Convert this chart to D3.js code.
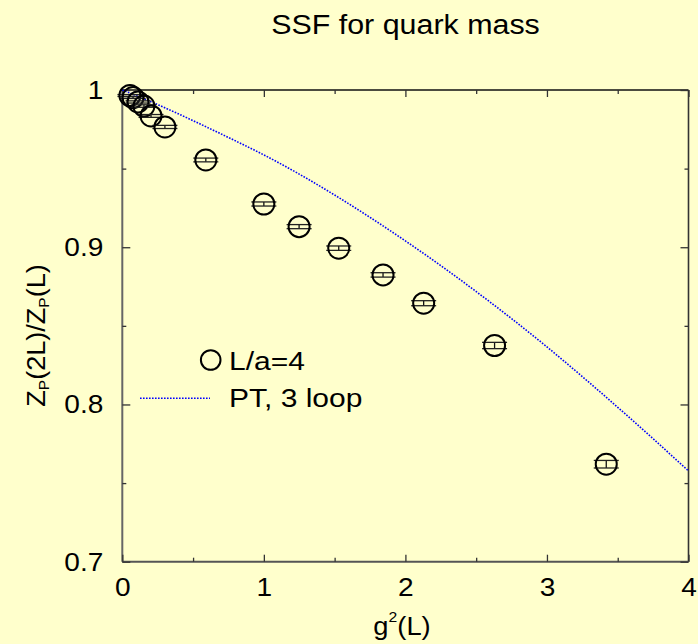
<!DOCTYPE html>
<html>
<head>
<meta charset="utf-8">
<script src="https://cdn.jsdelivr.net/npm/d3@7"></script>
<style>
  html, body { margin: 0; padding: 0; background: #ffffcc; }
  svg { display: block; }
  text { font-family: "Liberation Sans", Arial, Helvetica, sans-serif; fill: #000; }
</style>
</head>
<body>
<div id="chart"></div>
<script>
// ---- data ----
const g2 = [0.054, 0.076, 0.111, 0.153, 0.203, 0.301, 0.590, 1.000, 1.249, 1.529, 1.842, 2.129, 2.630, 3.419];
const ratio = [0.9965, 0.9952, 0.9924, 0.9898, 0.9835, 0.9765, 0.9555, 0.9275, 0.9131, 0.8994, 0.8824, 0.8644, 0.8375, 0.7620];
const ratioErr = [0.0006, 0.0006, 0.0007, 0.0008, 0.0009, 0.0010, 0.0012, 0.0013, 0.0013, 0.0014, 0.0014, 0.0016, 0.0020, 0.0024];

const ptG2 = [0, 0.25, 0.5, 0.75, 1, 1.25, 1.5, 1.75, 2, 2.25, 2.5, 2.75, 3, 3.25, 3.5, 3.75, 4];
const ptRatio = [1, 0.9907, 0.9805, 0.9698, 0.9587, 0.9465, 0.9332, 0.919, 0.904, 0.8883, 0.8718, 0.8546, 0.8366, 0.8177, 0.7982, 0.7782, 0.7577];

const xTicks = [0, 1, 2, 3, 4];
const xMinor = [0.5, 1.5, 2.5, 3.5];
const yTicks = [0.7, 0.8, 0.9, 1];
const yMinor = [0.75, 0.85, 0.95];

const title = "SSF for quark mass";
const legendData = "L/a=4";
const legendPT = "PT, 3 loop";

// ---- layout ----
const W = 698, H = 644;
const pL = 122.3, pR = 688.5, pT = 90, pB = 561.7;

const svg = d3.select("#chart").append("svg").attr("width", W).attr("height", H);
svg.append("rect").attr("width", W).attr("height", H).attr("fill", "#ffffcc");

const x = d3.scaleLinear().domain([0, 4]).range([pL, pR]);
const y = d3.scaleLinear().domain([0.7, 1]).range([pB, pT]);

// frame
svg.append("line").attr("x1", pL).attr("x2", pR).attr("y1", pT).attr("y2", pT).attr("stroke", "#111").attr("stroke-width", 1.3);
svg.append("line").attr("x1", pR).attr("x2", pR).attr("y1", pT).attr("y2", pB).attr("stroke", "#333").attr("stroke-width", 1.6);
svg.append("line").attr("x1", pL).attr("x2", pL).attr("y1", pT).attr("y2", pB).attr("stroke", "#666").attr("stroke-width", 2);
svg.append("line").attr("x1", pL).attr("x2", pR).attr("y1", pB).attr("y2", pB).attr("stroke", "#555").attr("stroke-width", 2);

function styleTicks(g) {
  g.select(".domain").remove();
  g.selectAll("line").attr("stroke", "#333").attr("stroke-width", 1.3);
}

// stretched text helper (reference glyphs are slightly wider than Liberation Sans)
function stext(px, py, size, sx, anchor) {
  return svg.append("text")
    .attr("transform", `translate(${px},${py}) scale(${sx},1)`)
    .attr("font-size", size)
    .attr("text-anchor", anchor || "start");
}

// axes (inward ticks)
const tickFont = 26, tickSX = 1.08;
const gx = svg.append("g").attr("transform", `translate(0,${pB})`)
  .call(d3.axisBottom(x).tickValues(xTicks).tickSize(-7).tickFormat(d3.format("d")));
styleTicks(gx);
gx.selectAll("text").attr("font-size", tickFont).attr("y", 16).attr("dy", "0.71em")
  .attr("transform", `scale(${tickSX},1)`)
  .style("font-family", "Liberation Sans, Arial, sans-serif");

styleTicks(svg.append("g").attr("transform", `translate(0,${pB})`)
  .call(d3.axisBottom(x).tickValues(xMinor).tickSize(-4).tickFormat("")));
styleTicks(svg.append("g").attr("transform", `translate(0,${pT})`)
  .call(d3.axisTop(x).tickValues(xTicks).tickSize(-7).tickFormat("")));
styleTicks(svg.append("g").attr("transform", `translate(0,${pT})`)
  .call(d3.axisTop(x).tickValues(xMinor).tickSize(-4).tickFormat("")));

const gy = svg.append("g").attr("transform", `translate(${pL},0)`)
  .call(d3.axisLeft(y).tickValues(yTicks).tickSize(-8).tickPadding(19)
    .tickFormat(d => d === 1 ? "1" : d3.format(".1f")(d)));
styleTicks(gy);
gy.selectAll("text").attr("font-size", tickFont)
  .attr("x", -19 / tickSX)
  .attr("transform", `scale(${tickSX},1)`)
  .style("font-family", "Liberation Sans, Arial, sans-serif");

styleTicks(svg.append("g").attr("transform", `translate(${pL},0)`)
  .call(d3.axisLeft(y).tickValues(yMinor).tickSize(-4).tickFormat("")));
styleTicks(svg.append("g").attr("transform", `translate(${pR},0)`)
  .call(d3.axisRight(y).tickValues(yTicks).tickSize(-8).tickFormat("")));
styleTicks(svg.append("g").attr("transform", `translate(${pR},0)`)
  .call(d3.axisRight(y).tickValues(yMinor).tickSize(-4).tickFormat("")));

// PT curve
const ptData = ptG2.map((g, i) => [g, ptRatio[i]]);
svg.append("path")
  .datum(ptData)
  .attr("d", d3.line().x(d => x(d[0])).y(d => y(d[1])).curve(d3.curveNatural))
  .attr("fill", "none")
  .attr("stroke", "#0000ff")
  .attr("stroke-width", 1.6)
  .attr("stroke-dasharray", "1.6,1.4");

// data points with error bars
const pts = g2.map((g, i) => ({ g, r: ratio[i], e: ratioErr[i] }));
const pg = svg.append("g");
const capHalf = 12.5;
pts.forEach(p => {
  const cx = x(p.g), cy = y(p.r), y1 = y(p.r + p.e), y2 = y(p.r - p.e);
  pg.append("line").attr("x1", cx).attr("x2", cx).attr("y1", y1).attr("y2", y2).attr("stroke", "#111").attr("stroke-width", 1.3);
  pg.append("line").attr("x1", cx - capHalf).attr("x2", cx + capHalf).attr("y1", y1).attr("y2", y1).attr("stroke", "#222").attr("stroke-width", 1.3);
  pg.append("line").attr("x1", cx - capHalf).attr("x2", cx + capHalf).attr("y1", y2).attr("y2", y2).attr("stroke", "#222").attr("stroke-width", 1.3);
  pg.append("circle").attr("cx", cx).attr("cy", cy).attr("r", 10.5).attr("fill", "none").attr("stroke", "#000").attr("stroke-width", 2);
});

// legend
svg.append("circle").attr("cx", 210.7).attr("cy", 360).attr("r", 9.8).attr("fill", "none").attr("stroke", "#000").attr("stroke-width", 2);
stext(229, 369.5, 25, 1.2).text(legendData);
svg.append("line").attr("x1", 140).attr("x2", 210).attr("y1", 398.3).attr("y2", 398.3)
  .attr("stroke", "#0000ff").attr("stroke-width", 1.6).attr("stroke-dasharray", "1.6,1.4");
stext(229, 406.5, 25, 1.2).text(legendPT);

// title
stext(405.5, 33.5, 28, 1.086, "middle").text(title);

// x label g^2(L)
const xl = stext(402, 635, 26, 1.05, "middle");
xl.append("tspan").text("g");
xl.append("tspan").attr("font-size", 15).attr("dy", -13).text("2");
xl.append("tspan").attr("dy", 13).text("(L)");

// y label Z_P(2L)/Z_P(L)
const yl = svg.append("text").attr("transform", "translate(45,335.5) rotate(-90) scale(1.04,1)").attr("text-anchor", "middle").attr("font-size", 26);
yl.append("tspan").text("Z");
yl.append("tspan").attr("font-size", 15).attr("dy", 4).text("P");
yl.append("tspan").attr("dy", -4).text("(2L)/Z");
yl.append("tspan").attr("font-size", 15).attr("dy", 4).text("P");
yl.append("tspan").attr("dy", -4).text("(L)");
</script>
</body>
</html>
